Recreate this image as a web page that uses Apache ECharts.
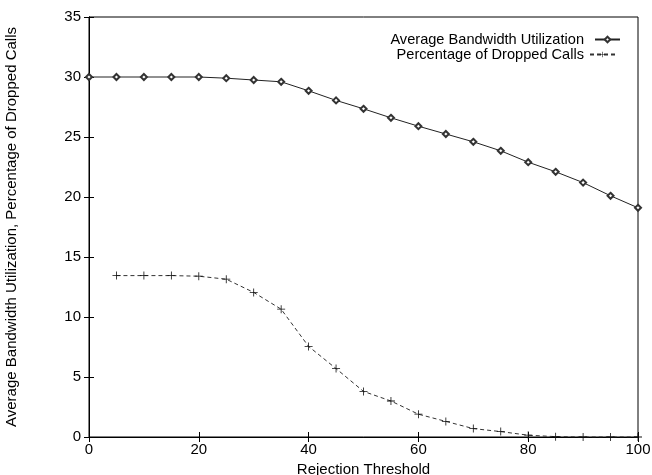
<!DOCTYPE html>
<html>
<head>
<meta charset="utf-8">
<script src="https://cdn.jsdelivr.net/npm/echarts@6/dist/echarts.min.js"></script>
<style>
  html, body { margin: 0; padding: 0; background: #fff; }
  #chart { width: 652px; height: 475px; }
</style>
</head>
<body>
<div id="chart"></div>
<script>
// data
var thresholds = [0, 5, 10, 15, 20, 25, 30, 35, 40, 45, 50, 55, 60, 65, 70, 75, 80, 85, 90, 95, 100];
var bandwidth = [30.0, 30.0, 30.0, 30.0, 30.0, 29.9, 29.75, 29.6, 28.85, 28.05, 27.35, 26.6, 25.9, 25.25, 24.6, 23.85, 22.9, 22.1, 21.2, 20.1, 19.1];
var droppedX = [5, 10, 15, 20, 25, 30, 35, 40, 45, 50, 55, 60, 65, 70, 75, 80, 85, 90, 95, 100];
var dropped = [13.45, 13.45, 13.45, 13.4, 13.15, 12.05, 10.65, 7.55, 5.7, 3.8, 3.0, 1.9, 1.3, 0.7, 0.45, 0.15, 0.03, 0, 0, 0];
var yTicks = [0, 5, 10, 15, 20, 25, 30, 35];
var xTicks = [0, 20, 40, 60, 80, 100];

var seriesNames = ['Average Bandwidth Utilization', 'Percentage of Dropped Calls'];
var plusPath = 'path://M4.5,0h1v4.5h4.5v1h-4.5v4.5h-1v-4.5h-4.5v-1h4.5z';
var font = 'Liberation Sans';

var myChart = echarts.init(document.getElementById('chart'));

function pairs(xs, ys) {
    return xs.map(function (x, i) { return [x, ys[i]]; });
}

var option = {
    backgroundColor: '#fff',
    animation: false,
    textStyle: { fontFamily: font, color: '#000' },
    grid: {
        left: 89, right: 14, top: 17, bottom: 38,
        outerBoundsMode: 'none',
        show: true, borderColor: '#000', borderWidth: 1
    },
    legend: [
        {
            data: [seriesNames[0]],
            right: 26, top: 27,
            align: 'right',
            itemWidth: 25, itemHeight: 7,
            textStyle: { fontFamily: font, fontSize: 14.6, color: '#000', padding: [0, 6, 0, 0] }
        },
        {
            data: [seriesNames[1]],
            right: 31, top: 42,
            align: 'right',
            itemWidth: 25, itemHeight: 7,
            textStyle: { fontFamily: font, fontSize: 14.6, color: '#000', padding: [0, 1, 0, 0] }
        }
    ],
    xAxis: [
        {
            type: 'value',
            min: xTicks[0], max: xTicks[xTicks.length - 1], interval: 20,
            name: 'Rejection Threshold',
            nameLocation: 'middle',
            nameGap: 22,
            nameTextStyle: { fontFamily: font, fontSize: 15, color: '#000' },
            axisLine: { lineStyle: { color: '#000' } },
            axisTick: { inside: true, length: 5, lineStyle: { color: '#000' } },
            axisLabel: { fontFamily: font, fontSize: 15, color: '#000', margin: 5 },
            splitLine: { show: false }
        },
        {
            type: 'value', position: 'top',
            min: xTicks[0], max: xTicks[xTicks.length - 1], interval: 20,
            axisLine: { lineStyle: { color: '#000' } },
            axisTick: { inside: true, length: 5, lineStyle: { color: '#000' } },
            axisLabel: { show: false },
            splitLine: { show: false }
        }
    ],
    yAxis: [
        {
            type: 'value',
            min: yTicks[0], max: yTicks[yTicks.length - 1], interval: 5,
            name: 'Average Bandwidth Utilization, Percentage of Dropped Calls',
            nameLocation: 'middle',
            nameGap: 70,
            nameTextStyle: { fontFamily: font, fontSize: 15, color: '#000' },
            axisLine: { show: true, lineStyle: { color: '#000' } },
            axisTick: { show: true, inside: true, length: 5, lineStyle: { color: '#000' } },
            axisLabel: { fontFamily: font, fontSize: 15, color: '#000', margin: 8 },
            splitLine: { show: false }
        },
        {
            type: 'value', position: 'right',
            min: yTicks[0], max: yTicks[yTicks.length - 1], interval: 5,
            axisLine: { show: true, lineStyle: { color: '#000' } },
            axisTick: { show: true, inside: true, length: 5, lineStyle: { color: '#000' } },
            axisLabel: { show: false },
            splitLine: { show: false }
        }
    ],
    series: [
        {
            name: seriesNames[0],
            type: 'line',
            data: pairs(thresholds, bandwidth),
            symbol: 'emptyDiamond',
            symbolSize: 6,
            lineStyle: { color: '#222', width: 1 },
            itemStyle: { color: '#333', borderWidth: 0.8 }
        },
        {
            name: seriesNames[1],
            type: 'line',
            data: pairs(droppedX, dropped),
            symbol: plusPath,
            symbolSize: 8,
            lineStyle: { color: '#333', width: 1, type: [4, 3] },
            itemStyle: { color: '#111' }
        }
    ]
};

myChart.setOption(option);
</script>
</body>
</html>
